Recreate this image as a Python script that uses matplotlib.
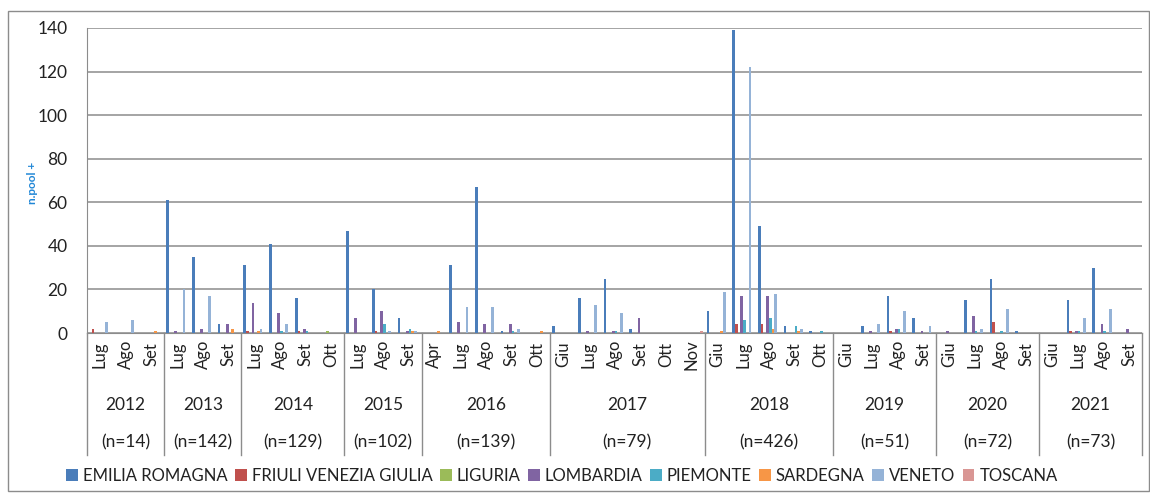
import matplotlib

matplotlib.use("Agg")
import matplotlib.pyplot as plt
from matplotlib.patches import Rectangle, Patch
import numpy as np

plt.rcParams["font.family"] = ["Lato", "DejaVu Sans"]

# category axis: months grouped by year
years = ["2012", "2013", "2014", "2015", "2016", "2017", "2018", "2019", "2020", "2021"]
n_labels = ["(n=14)", "(n=142)", "(n=129)", "(n=102)", "(n=139)",
            "(n=79)", "(n=426)", "(n=51)", "(n=72)", "(n=73)"]
months_by_year = [
    ["Lug", "Ago", "Set"],
    ["Lug", "Ago", "Set"],
    ["Lug", "Ago", "Set", "Ott"],
    ["Lug", "Ago", "Set"],
    ["Apr", "Lug", "Ago", "Set", "Ott"],
    ["Giu", "Lug", "Ago", "Set", "Ott", "Nov"],
    ["Giu", "Lug", "Ago", "Set", "Ott"],
    ["Giu", "Lug", "Ago", "Set"],
    ["Giu", "Lug", "Ago", "Set"],
    ["Giu", "Lug", "Ago", "Set"],
]

emilia_romagna = [0, 0, 0, 61, 35, 4, 31, 41, 16, 0, 47, 20, 7, 0, 31, 67, 1, 0,
                  3, 16, 25, 2, 0, 0, 10, 139, 49, 3, 1, 0, 3, 17, 7, 0, 15, 25, 1, 0, 15, 30, 0]
friuli = [2, 0, 0, 0, 0, 0, 1, 0, 1, 0, 0, 1, 0, 0, 0, 0, 0, 0,
          0, 0, 0, 0, 0, 0, 0, 4, 4, 0, 0, 0, 0, 1, 0, 0, 0, 5, 0, 0, 1, 0, 0]
liguria = [0, 0, 0, 0, 0, 0, 0, 0, 0, 1, 0, 0, 0, 0, 0, 0, 0, 0,
           0, 0, 0, 0, 0, 0, 0, 0, 0, 0, 0, 0, 0, 0, 0, 0, 0, 0, 0, 0, 0, 0, 0]
lombardia = [0, 0, 0, 1, 2, 4, 14, 9, 2, 0, 7, 10, 1, 0, 5, 4, 4, 0,
             0, 1, 1, 7, 0, 0, 0, 17, 17, 0, 0, 0, 1, 2, 1, 1, 8, 0, 0, 0, 1, 4, 2]
piemonte = [0, 0, 0, 0, 0, 0, 0, 1, 1, 0, 0, 4, 2, 0, 0, 0, 1, 0,
            0, 0, 1, 0, 0, 0, 0, 6, 7, 3, 1, 0, 0, 2, 0, 0, 1, 1, 0, 0, 1, 1, 0]
sardegna = [0, 0, 1, 0, 0, 2, 1, 0, 0, 0, 0, 0, 1, 1, 0, 0, 0, 1,
            0, 0, 0, 0, 0, 0, 1, 0, 2, 1, 0, 0, 0, 0, 0, 0, 0, 0, 0, 0, 0, 0, 0]
veneto = [5, 6, 0, 20, 17, 0, 2, 4, 0, 0, 0, 1, 1, 0, 12, 12, 2, 0,
          0, 13, 9, 0, 0, 0, 19, 122, 18, 2, 0, 0, 4, 10, 3, 0, 2, 11, 0, 0, 7, 11, 0]
toscana = [0, 0, 0, 0, 0, 0, 0, 0, 0, 0, 0, 0, 0, 0, 0, 0, 0, 0,
           0, 0, 0, 0, 0, 1, 0, 0, 0, 0, 0, 0, 0, 0, 0, 0, 0, 0, 0, 0, 0, 0, 0]

series_names = ["EMILIA ROMAGNA", "FRIULI VENEZIA GIULIA", "LIGURIA", "LOMBARDIA",
                "PIEMONTE", "SARDEGNA", "VENETO", "TOSCANA"]
series = [emilia_romagna, friuli, liguria, lombardia, piemonte, sardegna, veneto, toscana]
colors = ["#4A7DBA", "#C0504D", "#9BBB59", "#8064A2", "#4BACC6", "#F79646", "#95B3D7", "#D99694"]

W, H = 1150, 493
fig = plt.figure(figsize=(W / 100, H / 100), dpi=100)
ax = fig.add_axes([87 / W, 1 - 333 / H, (1142 - 87) / W, (333 - 28) / H])

n_cat = sum(len(m) for m in months_by_year)
x = np.arange(n_cat)
bw = 0.106
for j, (name, vals, c) in enumerate(zip(series_names, series, colors)):
    ax.bar(x - 3.5 * bw + j * bw, vals, width=bw, color=c, linewidth=0, label=name, zorder=3)

ax.set_xlim(-0.5, n_cat - 0.5)
ax.set_ylim(0, 140)
ax.set_yticks(range(0, 141, 20))
ax.tick_params(axis="y", length=0, pad=14, labelsize=12.5, labelcolor="#222222")
ax.set_xticks([])
ax.grid(axis="y", color="#8c8c8c", linewidth=1.1, zorder=0)
for s in ["top", "right"]:
    ax.spines[s].set_visible(False)
ax.spines["left"].set_color("#8c8c8c")
ax.spines["bottom"].set_color("#8c8c8c")

# multi-level category axis
trans = ax.get_xaxis_transform()
pos = 0
ax.plot([-0.5, -0.5], [0, -0.4], color="#8c8c8c", lw=1, transform=trans, clip_on=False)
for yr, nl, months in zip(years, n_labels, months_by_year):
    for k, m in enumerate(months):
        ax.text(pos + k, -0.07, m, rotation=90, ha="center", va="center",
                fontsize=12, color="#222222", transform=trans)
    mid = pos + (len(months) - 1) / 2
    ax.text(mid, -0.237, yr, ha="center", va="center", fontsize=12.5, color="#222222", transform=trans)
    ax.text(mid, -0.36, nl, ha="center", va="center", fontsize=12.5, color="#222222", transform=trans)
    pos += len(months)
    ax.plot([pos - 0.5, pos - 0.5], [0, -0.4], color="#8c8c8c", lw=1, transform=trans, clip_on=False)

fig.text(33 / W, 1 - 183 / H, "n.pool +", rotation=90, ha="center", va="center",
         fontsize=8.5, fontweight="bold", color="#1F86D6")

handles = [Patch(facecolor=c, edgecolor="none") for c in colors]
fig.legend(handles, series_names, loc="center", bbox_to_anchor=(562 / W, 1 - 476 / H),
           ncol=8, frameon=False, fontsize=12, handlelength=0.7, handleheight=0.7,
           handletextpad=0.3, columnspacing=0.45, labelcolor="#222222")

fig.patches.append(Rectangle((8 / W, 1 - 491 / H), (1149 - 8) / W, (491 - 11) / H,
                             transform=fig.transFigure, fill=False, edgecolor="#8c8c8c", lw=1))

fig.savefig("out.png", dpi=100, facecolor="white")
